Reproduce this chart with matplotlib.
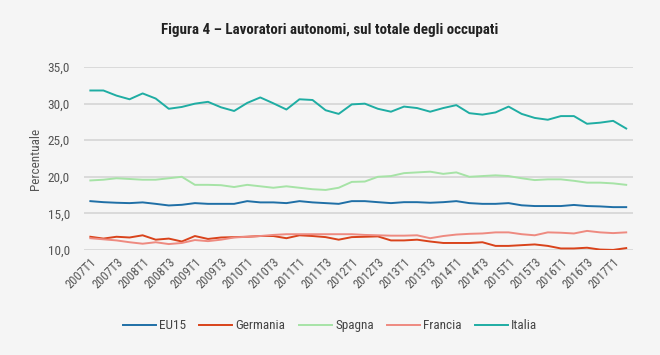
import matplotlib
matplotlib.use("Agg")
import matplotlib.pyplot as plt
from matplotlib import font_manager as fm

quarters = [f"{y}T{q}" for y in range(2007, 2018) for q in range(1, 5)][:42]

eu15 = [16.67, 16.53, 16.45, 16.4, 16.5, 16.3, 16.08, 16.17, 16.4, 16.3,
        16.3, 16.3, 16.67, 16.5, 16.5, 16.4, 16.67, 16.5, 16.4, 16.3,
        16.67, 16.67, 16.53, 16.4, 16.53, 16.53, 16.45, 16.53, 16.67, 16.4,
        16.3, 16.3, 16.4, 16.1, 16.0, 16.0, 16.0, 16.15, 16.0, 15.95,
        15.85, 15.85]
germania = [11.8, 11.55, 11.8, 11.7, 12.0, 11.4, 11.55, 11.15, 11.9, 11.5,
            11.7, 11.75, 11.8, 11.9, 11.9, 11.6, 12.0, 11.9, 11.75, 11.4,
            11.75, 11.8, 11.85, 11.3, 11.3, 11.4, 11.15, 10.95, 10.95, 10.95,
            11.05, 10.55, 10.55, 10.65, 10.75, 10.55, 10.2, 10.2, 10.3, 10.05,
            10.0, 10.25]
spagna = [19.5, 19.6, 19.8, 19.7, 19.6, 19.6, 19.8, 20.0, 18.9, 18.9,
          18.85, 18.6, 18.9, 18.7, 18.5, 18.7, 18.5, 18.3, 18.2, 18.5,
          19.3, 19.35, 20.0, 20.1, 20.5, 20.6, 20.7, 20.4, 20.6, 20.0,
          20.1, 20.2, 20.1, 19.8, 19.55, 19.65, 19.65, 19.45, 19.2, 19.2,
          19.1, 18.9]
francia = [11.6, 11.45, 11.3, 11.05, 10.85, 11.05, 10.8, 10.95, 11.35, 11.2,
           11.4, 11.7, 11.8, 11.9, 12.05, 12.15, 12.15, 12.15, 12.15, 12.15,
           12.15, 12.05, 12.0, 11.95, 11.95, 12.0, 11.6, 11.9, 12.1, 12.2,
           12.25, 12.4, 12.4, 12.15, 12.0, 12.4, 12.35, 12.25, 12.6, 12.4,
           12.3, 12.4]
italia = [31.8, 31.8, 31.1, 30.6, 31.4, 30.7, 29.3, 29.55, 30.0, 30.25,
          29.5, 29.0, 30.1, 30.85, 30.05, 29.2, 30.6, 30.5, 29.1, 28.6,
          29.9, 30.0, 29.3, 28.9, 29.6, 29.4, 28.9, 29.4, 29.8, 28.7,
          28.5, 28.8, 29.6, 28.6, 28.05, 27.8, 28.3, 28.3, 27.25, 27.4,
          27.65, 26.6]

series_names = ["EU15", "Germania", "Spagna", "Francia", "Italia"]
series_vals = [eu15, germania, spagna, francia, italia]
colors = ["#1f6fa6", "#d9431b", "#a6e3a6", "#ee8a80", "#1fada3"]

yticks = [10, 15, 20, 25, 30, 35]
ytick_labels = ["10,0", "15,0", "20,0", "25,0", "30,0", "35,0"]

names = {f.name for f in fm.fontManager.ttflist}
cands = ["Roboto Condensed", "Liberation Sans Narrow", "Open Sans Condensed", "Roboto"]
fam = [f for f in cands if f in names] + ["DejaVu Sans"]
plt.rcParams['font.family'] = fam
plt.rcParams['font.stretch'] = 'condensed'

bg = "#f5f5f5"
fig = plt.figure(figsize=(6.6, 3.55), dpi=100, facecolor=bg)
ax = fig.add_axes([0.127, 0.296, 0.8317, 0.515], facecolor=bg)

x = list(range(len(quarters)))
for name, vals, c in zip(series_names, series_vals, colors):
    ax.plot(x, vals, color=c, lw=1.4, label=name, solid_joinstyle="round")

ax.set_xlim(-0.5, len(quarters) - 0.5)
ax.set_ylim(10, 35)
ax.set_yticks(yticks)
ax.set_yticklabels(ytick_labels)
ax.set_xticks(x[::2])
ax.set_xticklabels(quarters[::2], rotation=45, ha="right", rotation_mode="anchor")
ax.grid(axis="y", color="#d8d8d8", lw=1.3)
ax.set_axisbelow(True)
for s in ax.spines.values():
    s.set_visible(False)
ax.tick_params(length=0, labelsize=9, colors="#555555")
ax.tick_params(axis="y", pad=10, labelsize=9.5)
ax.tick_params(axis="x", pad=4)
ax.set_ylabel("Percentuale", fontsize=9.5, color="#555555", labelpad=4)

fig.text(0.5, 0.915, "Figura 4 \u2013 Lavoratori autonomi, sul totale degli occupati",
         ha="center", va="center", fontsize=10.8, fontweight="bold", color="#222222")

fig.legend(loc="center", bbox_to_anchor=(0.5, 0.082), ncol=5, frameon=False,
           fontsize=9.5, handlelength=2.5, columnspacing=1.0, handletextpad=0.25,
           labelcolor="#444444")

fig.savefig("out.png", dpi=100, facecolor=bg)
